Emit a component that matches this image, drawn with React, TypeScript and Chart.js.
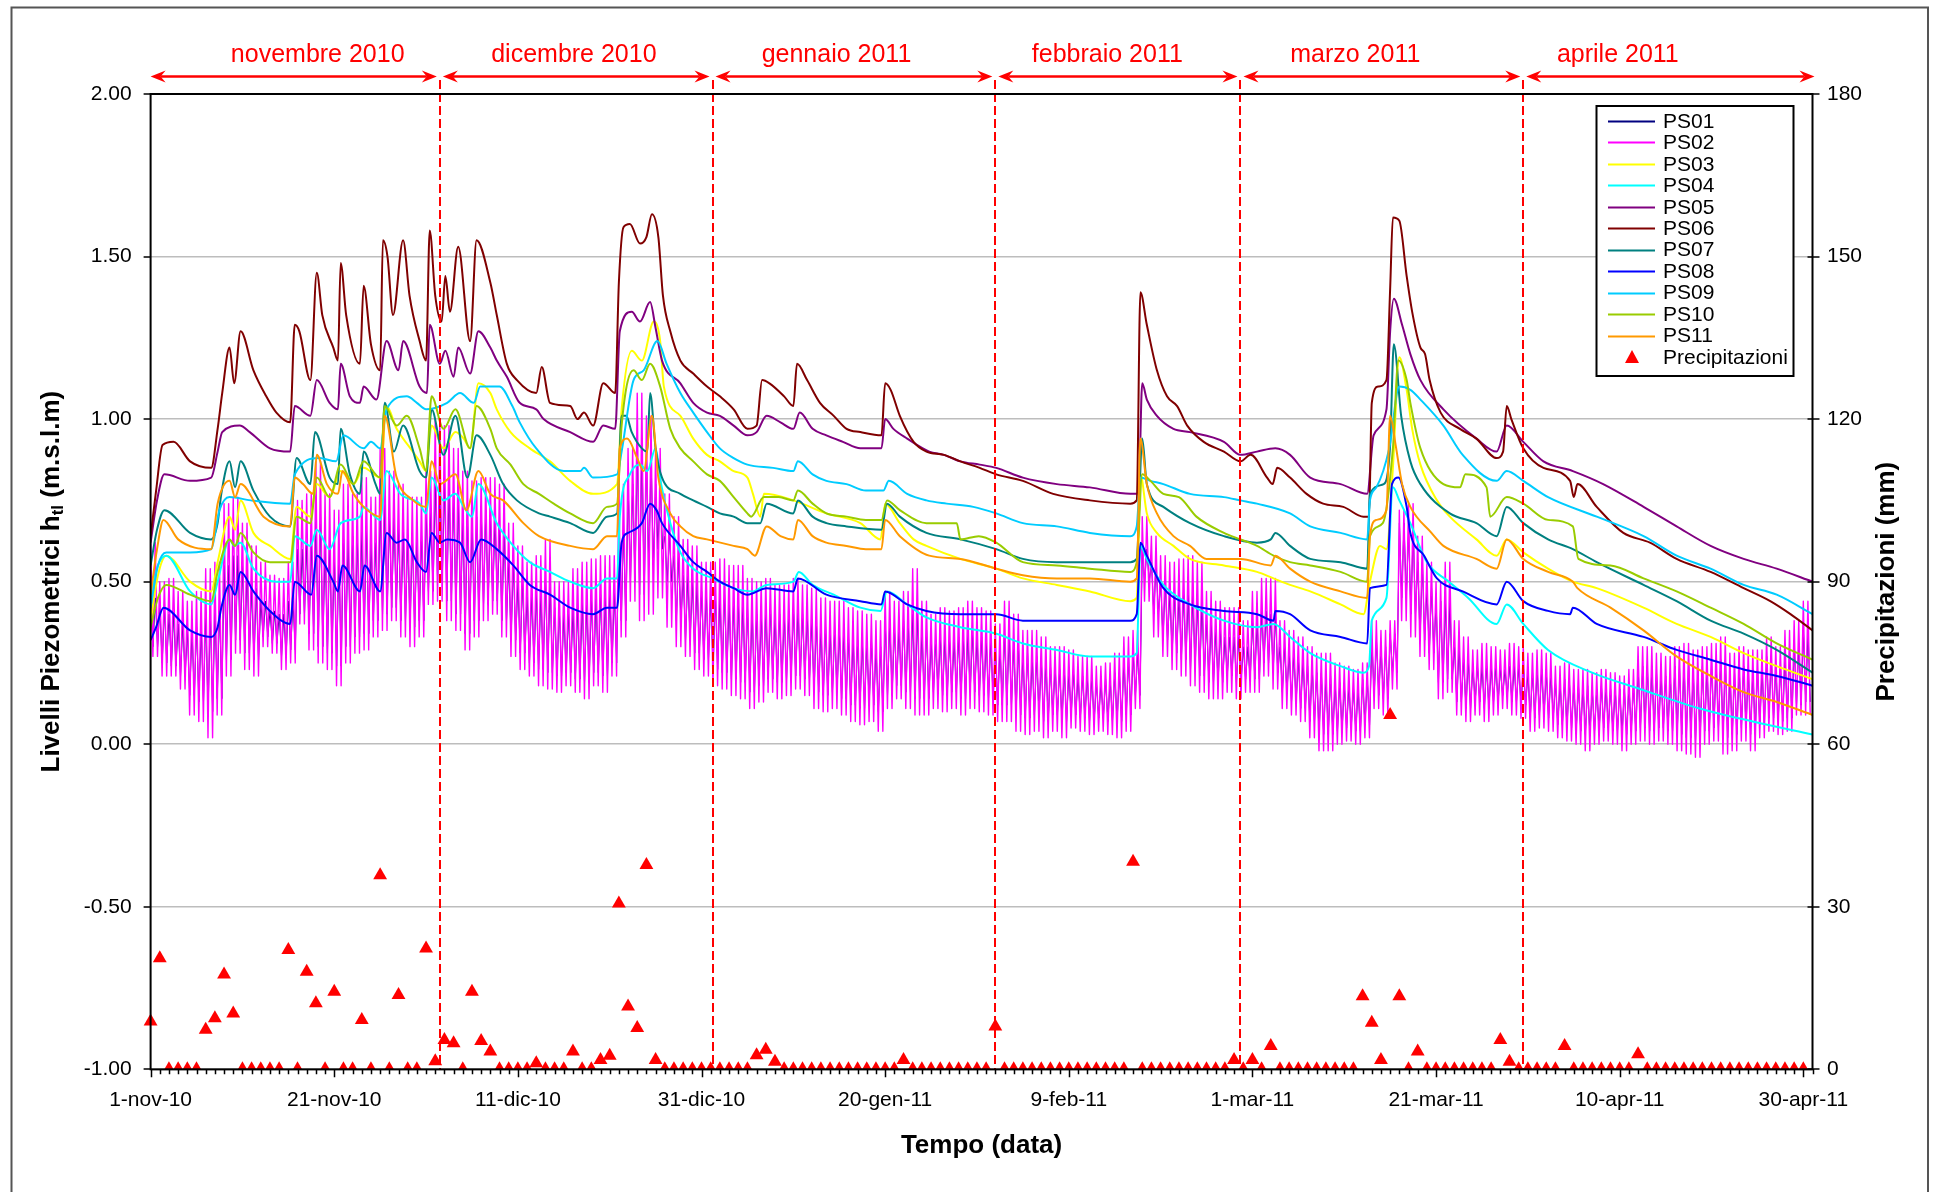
import { useEffect, useRef } from 'react';
import { Chart, registerables } from 'chart.js';

Chart.register(...registerables);

const FONT = "'Liberation Sans', Arial, Helvetica, sans-serif";

// Day 0 = 1 Nov 2010, day 181 = 1 May 2011
const X_MAX = 181;
const xTickDays = [0, 20, 40, 60, 80, 100, 120, 140, 160, 180];
const xTickLabels = ['1-nov-10', '21-nov-10', '11-dic-10', '31-dic-10', '20-gen-11', '9-feb-11', '1-mar-11', '21-mar-11', '10-apr-11', '30-apr-11'];

// Month bands drawn above the plot
const monthBounds = [0, 31.5, 61.2, 92, 118.7, 149.5, 181];
const monthNames = ['novembre 2010', 'dicembre 2010', 'gennaio 2011', 'febbraio 2011', 'marzo 2011', 'aprile 2011'];
const monthLabelDays = [18.2, 46.1, 74.7, 104.2, 131.2, 159.8];

const seriesNames = ['PS01', 'PS02', 'PS03', 'PS04', 'PS05', 'PS06', 'PS07', 'PS08', 'PS09', 'PS10', 'PS11'];
const seriesColors = ['#000080', '#ff00ff', '#ffff00', '#00ffff', '#800080', '#800000', '#008080', '#0000ff', '#00ccff', '#99cc00', '#ff9900'];

// Tidal wells: daily high / low level (m s.l.m.)
const ps01High = [
  0.45, 0.42, 0.40, 0.37, 0.35, 0.36, 0.40, 0.42, 0.55, 0.58,
  0.55, 0.48, 0.44, 0.41, 0.40, 0.44, 0.60, 0.62, 0.70, 0.62,
  0.58, 0.64, 0.64, 0.66, 0.62, 0.74, 0.70, 0.66, 0.64, 0.64,
  0.72, 0.80, 0.80, 0.76, 0.70, 0.70, 0.72, 0.70, 0.66, 0.56,
  0.50, 0.46, 0.47, 0.50, 0.42, 0.40, 0.42, 0.44, 0.45, 0.46,
  0.47, 0.66, 0.80, 0.92, 0.88, 0.80, 0.64, 0.58, 0.52, 0.50,
  0.47, 0.46, 0.46, 0.44, 0.44, 0.42, 0.40, 0.42, 0.40, 0.40,
  0.42, 0.40, 0.38, 0.36, 0.35, 0.35, 0.33, 0.32, 0.32, 0.30,
  0.38, 0.36, 0.38, 0.40, 0.35, 0.32, 0.33, 0.32, 0.33, 0.34,
  0.33, 0.32, 0.30, 0.34, 0.31, 0.28, 0.27, 0.26, 0.24, 0.23,
  0.22, 0.21, 0.21, 0.19, 0.20, 0.22, 0.26, 0.28, 0.60, 0.56,
  0.50, 0.46, 0.46, 0.46, 0.44, 0.38, 0.35, 0.33, 0.33, 0.30,
  0.38, 0.41, 0.40, 0.30, 0.28, 0.26, 0.24, 0.22, 0.21, 0.19,
  0.18, 0.17, 0.20, 0.32, 0.30, 0.34, 0.68, 0.66, 0.56, 0.48,
  0.44, 0.44, 0.30, 0.26, 0.24, 0.24, 0.24, 0.23, 0.24, 0.24,
  0.22, 0.23, 0.22, 0.19, 0.20, 0.18, 0.18, 0.17, 0.18, 0.17,
  0.17, 0.18, 0.24, 0.24, 0.22, 0.21, 0.24, 0.25, 0.23, 0.24,
  0.25, 0.26, 0.22, 0.24, 0.23, 0.23, 0.27, 0.24, 0.28, 0.31,
  0.35,
];
const ps01Low = [
  0.30, 0.25, 0.24, 0.21, 0.15, 0.13, 0.10, 0.14, 0.26, 0.32,
  0.28, 0.26, 0.33, 0.31, 0.27, 0.29, 0.40, 0.34, 0.30, 0.28,
  0.24, 0.30, 0.33, 0.34, 0.38, 0.40, 0.42, 0.38, 0.36, 0.38,
  0.47, 0.50, 0.44, 0.40, 0.34, 0.38, 0.43, 0.44, 0.38, 0.32,
  0.28, 0.25, 0.23, 0.22, 0.21, 0.22, 0.20, 0.19, 0.22, 0.21,
  0.25, 0.38, 0.50, 0.46, 0.55, 0.60, 0.50, 0.38, 0.32, 0.28,
  0.26, 0.23, 0.22, 0.20, 0.19, 0.16, 0.18, 0.20, 0.19, 0.20,
  0.21, 0.20, 0.16, 0.15, 0.16, 0.14, 0.12, 0.11, 0.12, 0.10,
  0.15, 0.18, 0.16, 0.14, 0.14, 0.16, 0.15, 0.16, 0.14, 0.16,
  0.15, 0.14, 0.12, 0.12, 0.09, 0.08, 0.09, 0.07, 0.09, 0.07,
  0.09, 0.08, 0.07, 0.08, 0.07, 0.07, 0.09, 0.15, 0.50, 0.40,
  0.32, 0.28, 0.26, 0.23, 0.21, 0.19, 0.19, 0.21, 0.19, 0.20,
  0.20, 0.25, 0.22, 0.16, 0.13, 0.11, 0.07, 0.03, 0.03, 0.04,
  0.05, 0.04, 0.06, 0.15, 0.14, 0.22, 0.45, 0.40, 0.32, 0.28,
  0.19, 0.20, 0.13, 0.11, 0.13, 0.11, 0.13, 0.15, 0.13, 0.12,
  0.08, 0.09, 0.08, 0.06, 0.05, 0.04, 0.03, 0.04, 0.05, 0.04,
  0.03, 0.04, 0.05, 0.04, 0.05, 0.04, 0.03, 0.02, 0.01, 0.04,
  0.05, 0.02, 0.03, 0.05, 0.03, 0.06, 0.08, 0.07, 0.08, 0.12,
  0.13,
];
const ps02High = [
  0.62, 0.50, 0.51, 0.47, 0.44, 0.47, 0.54, 0.56, 0.74, 0.76,
  0.68, 0.61, 0.56, 0.52, 0.51, 0.56, 0.75, 0.77, 0.87, 0.77,
  0.72, 0.80, 0.77, 0.82, 0.76, 0.91, 0.84, 0.80, 0.76, 0.76,
  0.84, 1.00, 0.98, 0.91, 0.84, 0.81, 0.82, 0.82, 0.80, 0.68,
  0.61, 0.56, 0.58, 0.63, 0.50, 0.50, 0.54, 0.56, 0.57, 0.58,
  0.58, 0.80, 0.91, 1.08, 1.01, 0.91, 0.77, 0.70, 0.63, 0.61,
  0.56, 0.56, 0.57, 0.55, 0.55, 0.51, 0.50, 0.51, 0.49, 0.49,
  0.51, 0.49, 0.48, 0.45, 0.44, 0.44, 0.42, 0.41, 0.40, 0.38,
  0.47, 0.44, 0.47, 0.54, 0.44, 0.40, 0.42, 0.41, 0.42, 0.44,
  0.42, 0.41, 0.37, 0.44, 0.40, 0.35, 0.35, 0.33, 0.30, 0.30,
  0.29, 0.27, 0.27, 0.24, 0.25, 0.28, 0.33, 0.35, 0.70, 0.64,
  0.58, 0.56, 0.57, 0.58, 0.56, 0.47, 0.44, 0.42, 0.42, 0.38,
  0.47, 0.51, 0.51, 0.38, 0.35, 0.33, 0.30, 0.28, 0.28, 0.25,
  0.24, 0.23, 0.25, 0.38, 0.35, 0.38, 0.72, 0.74, 0.64, 0.56,
  0.50, 0.56, 0.38, 0.33, 0.29, 0.31, 0.30, 0.29, 0.31, 0.30,
  0.28, 0.29, 0.28, 0.24, 0.25, 0.23, 0.23, 0.22, 0.23, 0.22,
  0.21, 0.23, 0.30, 0.30, 0.28, 0.27, 0.30, 0.31, 0.29, 0.30,
  0.31, 0.33, 0.28, 0.30, 0.29, 0.29, 0.33, 0.30, 0.35, 0.38,
  0.44,
];
const ps02Low = [
  0.27, 0.21, 0.21, 0.17, 0.09, 0.07, 0.02, 0.09, 0.21, 0.28,
  0.23, 0.21, 0.30, 0.28, 0.23, 0.25, 0.37, 0.29, 0.25, 0.23,
  0.18, 0.25, 0.28, 0.29, 0.33, 0.35, 0.38, 0.33, 0.30, 0.33,
  0.43, 0.44, 0.38, 0.35, 0.29, 0.33, 0.38, 0.40, 0.33, 0.27,
  0.23, 0.21, 0.18, 0.17, 0.16, 0.18, 0.16, 0.14, 0.18, 0.16,
  0.21, 0.33, 0.44, 0.38, 0.40, 0.45, 0.36, 0.30, 0.27, 0.23,
  0.21, 0.18, 0.17, 0.15, 0.14, 0.11, 0.13, 0.16, 0.14, 0.15,
  0.17, 0.15, 0.11, 0.10, 0.11, 0.09, 0.07, 0.06, 0.07, 0.04,
  0.11, 0.14, 0.11, 0.09, 0.09, 0.11, 0.10, 0.11, 0.09, 0.11,
  0.10, 0.09, 0.07, 0.07, 0.04, 0.03, 0.04, 0.02, 0.04, 0.02,
  0.05, 0.04, 0.03, 0.04, 0.03, 0.02, 0.04, 0.11, 0.44, 0.33,
  0.27, 0.23, 0.21, 0.18, 0.16, 0.14, 0.14, 0.16, 0.14, 0.16,
  0.16, 0.21, 0.17, 0.11, 0.09, 0.07, 0.02, -0.02, -0.02, 0.00,
  0.01, 0.00, 0.02, 0.11, 0.09, 0.17, 0.38, 0.33, 0.27, 0.23,
  0.14, 0.16, 0.09, 0.07, 0.09, 0.07, 0.09, 0.11, 0.09, 0.08,
  0.04, 0.05, 0.04, 0.02, 0.01, 0.00, -0.02, 0.00, 0.01, 0.00,
  -0.02, 0.00, 0.01, 0.00, 0.01, 0.00, -0.02, -0.03, -0.04, 0.00,
  0.01, -0.03, -0.02, 0.01, -0.02, 0.02, 0.04, 0.03, 0.04, 0.09,
  0.09,
];

// Inland wells: [day, level] at the turning points of each record
const ps03 = [
  [0, 0.38], [0.8, 0.52], [1.7, 0.58], [4.3, 0.50], [6.6, 0.47], [7.3, 0.56], [8.6, 0.70], [9.2, 0.66], [9.8, 0.75], [11.2, 0.65],
  [13, 0.61], [15.2, 0.57], [15.9, 0.73], [17.4, 0.70], [18.1, 0.80], [19.5, 0.76], [20.7, 0.84], [22.1, 0.80], [23.2, 0.85], [25, 0.82],
  [25.7, 1.04], [26.8, 0.97], [28.3, 0.91], [29.3, 0.87], [30, 0.84], [30.6, 0.98], [31.9, 0.91], [33.2, 0.96], [34.1, 0.94], [34.8, 0.91],
  [35.7, 1.11], [37, 1.08], [37.7, 1.03], [39.2, 0.96], [41.3, 0.91], [43.5, 0.87], [45.7, 0.81], [48.2, 0.77], [50.8, 0.80], [51.3, 1.03],
  [52.4, 1.21], [53.5, 1.18], [54.8, 1.30], [55.5, 1.24], [55.9, 1.10], [57.7, 1.01], [59.1, 0.94], [60.6, 0.89], [62, 0.87], [63.5, 0.84],
  [65, 0.82], [65.6, 0.77], [66.4, 0.70], [66.8, 0.77], [70, 0.75], [73.6, 0.71], [77.3, 0.68], [79.5, 0.63], [80, 0.74], [81.6, 0.68],
  [83.1, 0.63], [84.5, 0.61], [88.2, 0.57], [92.1, 0.54], [95, 0.51], [98.7, 0.49], [102.3, 0.47], [106.7, 0.44], [107.4, 0.45], [107.8, 0.83],
  [108.5, 0.71], [109.6, 0.65], [111.4, 0.61], [113.2, 0.57], [116.9, 0.55], [120.5, 0.53], [122.3, 0.51], [124.1, 0.49], [126.3, 0.47], [129.6, 0.43],
  [132.1, 0.40], [132.8, 0.50], [133.9, 0.61], [134.6, 0.60], [135.3, 0.85], [136, 1.19], [136.8, 1.09], [137.4, 0.97], [138.3, 0.86], [140.1, 0.75],
  [141.5, 0.70], [144.4, 0.63], [146.6, 0.58], [147.7, 0.63], [149.5, 0.59], [152.2, 0.54], [154.9, 0.50], [157.5, 0.48], [162.6, 0.42], [166.2, 0.37],
  [169.9, 0.33], [173.5, 0.28], [177.1, 0.24], [181, 0.20],
];
const ps04 = [
  [0, 0.45], [0.8, 0.55], [1.7, 0.58], [4.3, 0.47], [6.6, 0.43], [7.3, 0.50], [8.6, 0.63], [9.1, 0.61], [9.8, 0.62], [11.2, 0.54],
  [13.7, 0.50], [15.2, 0.50], [15.7, 0.64], [17.4, 0.61], [18.1, 0.66], [19.5, 0.60], [20.7, 0.68], [22.8, 0.70], [23.2, 0.73], [25, 0.69],
  [25.7, 0.84], [27.2, 0.77], [29.3, 0.74], [30, 0.71], [30.6, 0.82], [31.9, 0.75], [33.2, 0.77], [34.1, 0.73], [35, 0.70], [35.7, 0.80],
  [37.7, 0.68], [39.5, 0.61], [41.3, 0.56], [43.5, 0.53], [45.7, 0.50], [48.2, 0.48], [49.7, 0.51], [50.8, 0.51], [51.1, 0.70], [52.2, 0.83],
  [53.3, 0.86], [54.1, 0.84], [55, 0.91], [55.6, 0.80], [56.6, 0.68], [57.7, 0.59], [59.1, 0.54], [61.2, 0.51], [63.5, 0.48], [65.6, 0.47],
  [67.1, 0.49], [70, 0.50], [70.6, 0.53], [72.1, 0.49], [74.4, 0.46], [77.3, 0.42], [79.5, 0.41], [80.2, 0.47], [82.4, 0.43], [84.5, 0.39],
  [88.2, 0.36], [92.1, 0.34], [95, 0.31], [98.7, 0.29], [102.3, 0.27], [106.7, 0.27], [107.4, 0.28], [107.8, 0.61], [108.5, 0.57], [110.3, 0.49],
  [113.2, 0.43], [116.9, 0.38], [120.5, 0.36], [122.3, 0.37], [124.1, 0.33], [126.3, 0.28], [129.6, 0.24], [132.1, 0.22], [132.7, 0.24], [133, 0.38],
  [134.6, 0.45], [135.3, 0.79], [136, 0.75], [137.2, 0.68], [139, 0.56], [141.4, 0.50], [143.5, 0.45], [146.6, 0.37], [147.7, 0.43], [149.5, 0.37],
  [152.2, 0.29], [157, 0.22], [162.2, 0.17], [168.7, 0.11], [174.5, 0.07], [181, 0.03],
];
const ps05 = [
  [0, 0.62], [0.7, 0.75], [1.5, 0.83], [4.3, 0.81], [6.6, 0.82], [7.3, 0.90], [7.8, 0.96], [9.7, 0.98], [10.8, 0.96], [13, 0.91],
  [15.2, 0.90], [15.7, 1.04], [17.4, 1.01], [18.1, 1.12], [19.5, 1.05], [20.4, 1.03], [20.7, 1.17], [21.7, 1.07], [22.8, 1.05], [23.2, 1.10],
  [24.6, 1.06], [25.7, 1.24], [27, 1.15], [27.5, 1.24], [29.3, 1.10], [30.1, 1.08], [30.4, 1.29], [31.5, 1.17], [32.1, 1.21], [33, 1.13],
  [33.5, 1.22], [34.8, 1.14], [35.7, 1.27], [37, 1.22], [37.7, 1.18], [38.8, 1.13], [40.2, 1.05], [42, 1.03], [42.8, 1.00], [45.7, 0.96],
  [48.2, 0.93], [49.3, 0.98], [50.6, 0.97], [51.1, 1.27], [52.4, 1.33], [53.3, 1.30], [54.4, 1.36], [55, 1.28], [55.7, 1.18], [57.7, 1.11],
  [59.1, 1.05], [60.6, 1.02], [62, 1.01], [63.5, 0.98], [65, 0.95], [66, 0.96], [67.1, 1.01], [68.6, 0.99], [70, 0.97], [70.7, 1.02],
  [72.1, 0.97], [73.6, 0.95], [75.4, 0.93], [77.3, 0.91], [79.6, 0.91], [80, 1.00], [80.9, 0.97], [82.4, 0.94], [84.8, 0.90], [86.4, 0.89],
  [88.2, 0.87], [90.3, 0.86], [92.1, 0.85], [95, 0.82], [98.7, 0.80], [102.3, 0.79], [106.7, 0.77], [107.6, 0.77], [108, 1.11], [108.5, 1.06],
  [109.6, 1.01], [111.4, 0.97], [113.2, 0.96], [116.9, 0.93], [118.7, 0.89], [120.5, 0.90], [122.5, 0.91], [124.1, 0.89], [126.3, 0.82], [129.6, 0.80],
  [132.5, 0.77], [133.2, 0.95], [134.6, 1.03], [135, 1.27], [135.4, 1.37], [136.3, 1.29], [137.2, 1.20], [138.3, 1.12], [140.8, 1.03], [144.4, 0.94],
  [146.6, 0.90], [147.7, 0.98], [149.5, 0.93], [151.7, 0.87], [154.9, 0.84], [158.2, 0.80], [162.6, 0.73], [166.2, 0.67], [169.9, 0.61], [173.5, 0.57],
  [177.1, 0.54], [181, 0.50],
];
const ps06 = [
  [0, 0.64], [0.6, 0.78], [1.3, 0.92], [2.5, 0.93], [4.3, 0.87], [6.6, 0.85], [7.3, 0.97], [7.8, 1.08], [8.6, 1.22], [9.1, 1.11],
  [9.8, 1.27], [11.2, 1.15], [12.6, 1.07], [13.7, 1.02], [15.2, 0.99], [15.7, 1.29], [16.2, 1.27], [17.4, 1.12], [18.1, 1.45], [18.7, 1.32],
  [19.9, 1.22], [20.4, 1.18], [20.7, 1.48], [21.3, 1.32], [22.8, 1.17], [23.2, 1.41], [24, 1.23], [25, 1.15], [25.3, 1.55], [25.8, 1.50],
  [26.4, 1.32], [27.5, 1.55], [28.2, 1.38], [29.3, 1.24], [30, 1.18], [30.4, 1.58], [31, 1.38], [31.7, 1.30], [32.1, 1.44], [32.6, 1.33],
  [33.5, 1.53], [34.8, 1.24], [35.5, 1.55], [37, 1.42], [37.7, 1.32], [38.8, 1.17], [39.9, 1.12], [42, 1.08], [42.6, 1.16], [43.5, 1.05],
  [45.7, 1.04], [46.5, 1.00], [47.2, 1.02], [48.2, 0.98], [49.3, 1.11], [50.6, 1.08], [51, 1.42], [51.5, 1.59], [52.2, 1.60], [53.3, 1.54],
  [54, 1.56], [54.6, 1.63], [55.3, 1.56], [55.8, 1.38], [56.6, 1.27], [57.7, 1.18], [59.1, 1.14], [60.6, 1.10], [62, 1.07], [63.5, 1.03],
  [65, 0.97], [66, 0.98], [66.6, 1.12], [67.4, 1.11], [69, 1.07], [70, 1.04], [70.4, 1.17], [71.5, 1.12], [72.9, 1.05], [74.4, 1.01],
  [75.8, 0.97], [77.3, 0.96], [79.6, 0.95], [80, 1.11], [80.6, 1.09], [81.6, 1.01], [83.1, 0.93], [84.5, 0.90], [86.4, 0.89], [88.2, 0.87],
  [90.3, 0.85], [92.1, 0.83], [95, 0.81], [98.3, 0.77], [102.3, 0.75], [106.7, 0.74], [107.4, 0.75], [107.8, 1.39], [108.5, 1.29], [109.6, 1.15],
  [110.7, 1.07], [111.8, 1.04], [112.9, 0.98], [114.7, 0.93], [116.9, 0.90], [118.7, 0.87], [119.8, 0.89], [121.6, 0.82], [122.2, 0.80], [122.7, 0.85],
  [124.1, 0.82], [125.9, 0.77], [127.7, 0.74], [129.9, 0.73], [132.1, 0.70], [132.7, 0.70], [133, 1.05], [133.7, 1.10], [134.6, 1.12], [135, 1.40],
  [135.3, 1.62], [136, 1.61], [136.8, 1.44], [137.4, 1.33], [138.3, 1.22], [138.8, 1.20], [139.3, 1.12], [140.5, 1.02], [142.6, 0.97], [144.4, 0.94],
  [146.6, 0.88], [147.3, 0.90], [147.7, 1.04], [148.2, 1.00], [149.5, 0.91], [151.7, 0.85], [154.6, 0.81], [155, 0.76], [155.4, 0.80], [157.5, 0.73],
  [160.4, 0.65], [163.3, 0.62], [166.2, 0.57], [169.9, 0.53], [173.5, 0.48], [176.4, 0.44], [178.6, 0.40], [181, 0.35],
];
const ps07 = [
  [0, 0.55], [0.7, 0.66], [1.5, 0.72], [4.3, 0.65], [6.6, 0.63], [7.3, 0.68], [7.7, 0.77], [8.6, 0.87], [9.2, 0.79], [9.8, 0.87],
  [11.2, 0.78], [13, 0.70], [15.2, 0.67], [15.9, 0.88], [17.4, 0.80], [17.9, 0.96], [19.5, 0.82], [20.4, 0.80], [20.7, 0.97], [21.7, 0.83],
  [22.8, 0.77], [23.2, 0.90], [24.5, 0.80], [25, 0.77], [25.5, 1.05], [26.5, 0.90], [27.5, 0.98], [29.3, 0.84], [30, 0.82], [30.6, 1.03],
  [31.9, 0.89], [33.2, 1.01], [34.5, 0.82], [35.5, 0.95], [37, 0.89], [38.4, 0.80], [39.9, 0.75], [42.3, 0.71], [43.5, 0.70], [45.7, 0.68],
  [48.2, 0.65], [49.7, 0.70], [50.8, 0.71], [51.3, 1.01], [51.8, 1.01], [52.4, 0.96], [53.5, 0.91], [54.1, 0.90], [54.4, 1.08], [55, 0.91],
  [55.7, 0.82], [57.7, 0.77], [59.1, 0.75], [60.6, 0.73], [62, 0.71], [63.5, 0.70], [65, 0.68], [66.4, 0.68], [67.1, 0.74], [70, 0.71],
  [70.5, 0.75], [72.1, 0.70], [73.6, 0.68], [75.8, 0.67], [79.6, 0.66], [80.2, 0.74], [81.6, 0.70], [84.5, 0.65], [88.2, 0.63], [92.1, 0.60],
  [95, 0.57], [98.7, 0.56], [106.7, 0.56], [107.4, 0.57], [108, 0.94], [108.5, 0.80], [110.3, 0.73], [113.2, 0.68], [116.9, 0.64], [120.5, 0.62],
  [122, 0.63], [122.5, 0.65], [124.1, 0.61], [126.3, 0.57], [129.6, 0.56], [132.5, 0.54], [132.8, 0.77], [134.3, 0.80], [135, 0.92], [135.4, 1.23],
  [136.2, 1.01], [137.2, 0.87], [138.3, 0.80], [141.5, 0.71], [144.4, 0.68], [146.6, 0.64], [147.7, 0.73], [149.5, 0.68], [152.2, 0.63], [154.9, 0.60],
  [157.5, 0.56], [162.6, 0.49], [166.2, 0.44], [169.9, 0.38], [173.5, 0.34], [177.1, 0.29], [181, 0.22],
];
const ps08 = [
  [0, 0.32], [0.6, 0.36], [1.4, 0.42], [4.3, 0.35], [6.6, 0.33], [7.3, 0.36], [7.7, 0.42], [8.6, 0.49], [9.2, 0.46], [9.8, 0.53],
  [11.2, 0.47], [13, 0.41], [15.2, 0.37], [15.7, 0.50], [17.5, 0.46], [18.1, 0.58], [19.9, 0.50], [20.4, 0.47], [20.9, 0.55], [22.8, 0.47],
  [23.3, 0.55], [25, 0.47], [25.7, 0.65], [26.8, 0.62], [27.7, 0.63], [29, 0.56], [30, 0.53], [30.6, 0.65], [31.5, 0.62], [32.3, 0.63],
  [33.7, 0.62], [34.8, 0.56], [36, 0.63], [37.7, 0.60], [39.5, 0.55], [41.3, 0.49], [43.5, 0.46], [45.7, 0.42], [48.2, 0.40], [49.7, 0.42],
  [50.8, 0.42], [51.3, 0.62], [52, 0.65], [53.5, 0.68], [54.4, 0.74], [55.1, 0.72], [55.7, 0.68], [57.7, 0.61], [59.1, 0.56], [60.6, 0.53],
  [62, 0.50], [63.5, 0.48], [65, 0.46], [67.1, 0.48], [70, 0.47], [70.5, 0.51], [73.6, 0.46], [77.3, 0.44], [79.6, 0.43], [80, 0.47],
  [82.4, 0.43], [84.5, 0.41], [88.2, 0.40], [92.1, 0.40], [95, 0.38], [98.7, 0.38], [102.3, 0.38], [106.7, 0.38], [107.4, 0.40], [107.8, 0.62],
  [108.5, 0.58], [110.3, 0.48], [113.2, 0.43], [116.9, 0.41], [120.5, 0.40], [122.3, 0.38], [122.5, 0.41], [124.1, 0.40], [126.3, 0.35], [129.6, 0.33],
  [132.5, 0.31], [132.8, 0.48], [134.6, 0.49], [135.2, 0.80], [135.9, 0.82], [136.8, 0.73], [137.2, 0.65], [138.7, 0.58], [140.1, 0.51], [142.9, 0.47],
  [146.6, 0.43], [147.7, 0.50], [149.5, 0.44], [152.2, 0.41], [154.6, 0.40], [154.9, 0.42], [157.5, 0.37], [162.6, 0.33], [166.2, 0.29], [169.9, 0.26],
  [173.5, 0.23], [177.1, 0.21], [181, 0.18],
];
const ps09 = [
  [0, 0.42], [0.8, 0.55], [1.7, 0.59], [4.3, 0.59], [6.6, 0.60], [7.5, 0.72], [8.6, 0.76], [10.9, 0.75], [15.2, 0.74], [15.7, 0.83],
  [18.4, 0.88], [20.2, 0.87], [21, 0.95], [23.2, 0.91], [24, 0.93], [25, 0.91], [25.7, 1.03], [27.9, 1.07], [29, 1.05], [30, 1.03],
  [32.3, 1.05], [33.7, 1.08], [35.2, 1.05], [35.9, 1.10], [38, 1.10], [39.4, 1.04], [40.2, 0.99], [42, 0.91], [45, 0.84], [46.8, 0.84],
  [47.2, 0.85], [48.2, 0.82], [50.8, 0.83], [51.3, 0.90], [52.6, 1.12], [53.7, 1.15], [55.2, 1.24], [56.2, 1.17], [57.7, 1.08], [59.1, 1.02],
  [60.6, 0.96], [62, 0.91], [63.5, 0.88], [65, 0.86], [67.8, 0.85], [70, 0.84], [70.5, 0.87], [72.1, 0.83], [73.6, 0.81], [75.8, 0.80],
  [77.9, 0.78], [79.8, 0.78], [80.4, 0.81], [82.4, 0.77], [84.5, 0.75], [86.7, 0.74], [89.6, 0.73], [92.1, 0.71], [95, 0.68], [98.7, 0.67],
  [102.3, 0.65], [106.7, 0.64], [107.4, 0.67], [107.8, 0.82], [108.9, 0.81], [110.3, 0.80], [113.2, 0.77], [116.9, 0.76], [118.7, 0.75], [120.5, 0.74],
  [124.1, 0.71], [126.3, 0.67], [129.6, 0.65], [132.5, 0.63], [132.8, 0.75], [133.5, 0.79], [134.9, 0.91], [136, 1.10], [137.2, 1.09], [138.3, 1.06],
  [140.8, 0.98], [142.9, 0.89], [146.6, 0.81], [147.7, 0.84], [149.5, 0.81], [152.2, 0.76], [157.5, 0.70], [162.6, 0.64], [166.2, 0.58], [169.9, 0.54],
  [173.5, 0.49], [177.1, 0.46], [181, 0.40],
];
const ps10 = [
  [0, 0.36], [0.8, 0.45], [1.7, 0.49], [4.3, 0.46], [6.6, 0.44], [7.3, 0.53], [8.6, 0.63], [9.2, 0.61], [9.8, 0.65], [11.2, 0.59],
  [13, 0.56], [15.2, 0.56], [15.9, 0.70], [17.4, 0.68], [18.1, 0.82], [19.5, 0.76], [20.7, 0.86], [22.1, 0.80], [23.2, 0.87], [25, 0.82],
  [25.5, 1.04], [26.8, 0.98], [27.9, 1.01], [29.3, 0.91], [30, 0.84], [30.6, 1.07], [31.9, 0.97], [33.2, 1.03], [34.8, 0.91], [35.5, 1.04],
  [37, 0.97], [37.7, 0.91], [39.2, 0.86], [40.6, 0.80], [42.3, 0.77], [43.9, 0.74], [45.7, 0.71], [48.2, 0.68], [49.7, 0.73], [50.8, 0.74],
  [51.3, 0.98], [52.6, 1.15], [53.5, 1.12], [54.4, 1.17], [55.5, 1.10], [56.6, 0.97], [57.7, 0.91], [59.1, 0.87], [60.6, 0.83], [62, 0.81],
  [63.5, 0.76], [65, 0.71], [65.4, 0.70], [66.8, 0.76], [68.4, 0.76], [70, 0.75], [70.5, 0.78], [72.1, 0.74], [73.6, 0.71], [75.8, 0.70],
  [77.9, 0.69], [79.6, 0.69], [80.2, 0.75], [81.6, 0.72], [84.5, 0.68], [87.8, 0.68], [88.2, 0.63], [90.2, 0.64], [92.1, 0.62], [95, 0.56],
  [98.7, 0.55], [102.3, 0.54], [106.7, 0.53], [107.4, 0.56], [108, 0.83], [108.9, 0.81], [110.3, 0.77], [112, 0.76], [113.9, 0.70], [116.9, 0.65],
  [118.7, 0.63], [120.5, 0.61], [122.3, 0.58], [124.1, 0.56], [126.3, 0.55], [129.6, 0.53], [132.5, 0.50], [132.8, 0.64], [134.2, 0.68], [135.3, 0.91],
  [135.9, 1.18], [136.8, 1.12], [137.2, 1.05], [138.3, 0.91], [140.8, 0.80], [142.6, 0.79], [143.2, 0.83], [145.5, 0.79], [145.9, 0.70], [147.7, 0.76],
  [149.5, 0.74], [152.2, 0.69], [154.9, 0.67], [155.5, 0.57], [159, 0.55], [162.6, 0.51], [166.2, 0.47], [169.9, 0.42], [173.5, 0.37], [177.1, 0.31],
  [181, 0.26],
];
const ps11 = [
  [0, 0.46], [0.7, 0.60], [1.4, 0.69], [3, 0.63], [6.6, 0.60], [7.3, 0.74], [8.6, 0.81], [9.2, 0.76], [9.8, 0.80], [12.3, 0.70],
  [15.2, 0.67], [15.7, 0.82], [16.6, 0.80], [17.7, 0.77], [18.1, 0.89], [19.2, 0.80], [20.4, 0.77], [20.9, 0.84], [22.1, 0.77], [23.2, 0.73],
  [25, 0.70], [25.5, 1.01], [26.8, 0.82], [28.6, 0.75], [30, 0.73], [30.6, 0.87], [31.5, 0.80], [33.2, 0.83], [34.4, 0.72], [35.7, 0.84],
  [37, 0.77], [38.4, 0.75], [40.6, 0.68], [42.3, 0.64], [45.7, 0.61], [48.2, 0.60], [49.7, 0.64], [50.8, 0.64], [51.1, 0.91], [51.9, 0.94],
  [53, 0.88], [53.7, 0.84], [54.6, 1.01], [55.3, 0.82], [56.6, 0.71], [57.7, 0.67], [59.1, 0.64], [60.6, 0.63], [63.5, 0.61], [65, 0.60],
  [65.8, 0.58], [67.1, 0.67], [68.6, 0.64], [70, 0.63], [70.5, 0.69], [72.1, 0.64], [73.6, 0.62], [75.8, 0.61], [77.9, 0.60], [79.6, 0.60],
  [80, 0.69], [81.6, 0.64], [84.8, 0.58], [88.2, 0.57], [92.1, 0.54], [95, 0.52], [98.7, 0.51], [102.3, 0.51], [106.7, 0.50], [107.4, 0.51],
  [107.8, 0.94], [108.5, 0.80], [109.6, 0.71], [111.4, 0.64], [113.2, 0.61], [115, 0.57], [118.7, 0.57], [122, 0.55], [122.5, 0.58], [124.1, 0.54],
  [126.3, 0.50], [129.6, 0.47], [132.5, 0.45], [132.8, 0.64], [133.5, 0.69], [134.6, 0.72], [135, 1.01], [135.6, 0.92], [136.3, 0.80], [137.2, 0.73],
  [139.5, 0.65], [140.8, 0.61], [144.4, 0.57], [146.6, 0.54], [147.7, 0.63], [149.5, 0.57], [152.2, 0.53], [154.9, 0.50], [155.4, 0.48], [159, 0.42],
  [162.6, 0.35], [166.2, 0.27], [169.9, 0.21], [173.5, 0.16], [177.1, 0.13], [181, 0.09],
];

// Daily rainfall (mm), one value per day from 1 Nov 2010
const precipitation = [
  8.8, 20.5, 0, 0, 0, 0, 7.3, 9.4, 17.5, 10.3,
  0, 0, 0, 0, 0, 22.0, 0, 18.0, 12.2, 0,
  14.3, 0, 0, 9.1, 0, 35.8, 0, 13.7, 0, 0,
  22.3, 1.5, 5.4, 4.8, 0, 14.3, 5.2, 3.3, 0, 0,
  0, 0, 1.1, 0, 0, 0, 3.3, 0, 0, 1.7,
  2.5, 30.6, 11.6, 7.6, 37.7, 1.7, 0, 0, 0, 0,
  0, 0, 0, 0, 0, 0, 2.6, 3.6, 1.4, 0,
  0, 0, 0, 0, 0, 0, 0, 0, 0, 0,
  0, 0, 1.7, 0, 0, 0, 0, 0, 0, 0,
  0, 0, 7.9, 0, 0, 0, 0, 0, 0, 0,
  0, 0, 0, 0, 0, 0, 0, 38.3, 0, 0,
  0, 0, 0, 0, 0, 0, 0, 0, 1.7, 0,
  1.7, 0, 4.3, 0, 0, 0, 0, 0, 0, 0,
  0, 0, 13.5, 8.6, 1.7, 65.4, 13.5, 0, 3.3, 0,
  0, 0, 0, 0, 0, 0, 0, 5.4, 1.4, 0,
  0, 0, 0, 0, 4.3, 0, 0, 0, 0, 0,
  0, 0, 2.8, 0, 0, 0, 0, 0, 0, 0,
  0, 0, 0, 0, 0, 0, 0, 0, 0, 0,
  0,
];

const yTitleMain = 'Livelli Piezometrici h';
const yTitleSub = 'tl';
const yTitleUnit = ' (m.s.l.m)';
const xTitle = 'Tempo (data)';
const y2Title = 'Precipitazioni (mm)';

// Two tide cycles per day between the daily high and low readings
const tidalPoints = (hi: number[], lo: number[], phase: number) => {
  const pts: { x: number; y: number }[] = [];
  hi.forEach((h, d) => {
    pts.push(
      { x: d + phase, y: h },
      { x: d + phase + 0.25, y: lo[d] },
      { x: d + phase + 0.5, y: h },
      { x: d + phase + 0.75, y: lo[d] },
    );
  });
  return pts;
};
const toPoints = (pairs: number[][]) => pairs.map(([x, y]) => ({ x, y }));

const seriesData = [
  tidalPoints(ps01High, ps01Low, 0.01),
  tidalPoints(ps02High, ps02Low, 0),
  toPoints(ps03), toPoints(ps04), toPoints(ps05), toPoints(ps06), toPoints(ps07),
  toPoints(ps08), toPoints(ps09), toPoints(ps10), toPoints(ps11),
];

const arrowHead = (ctx: CanvasRenderingContext2D, tipX: number, y: number, dir: number) => {
  ctx.beginPath();
  ctx.moveTo(tipX, y);
  ctx.lineTo(tipX - dir * 15, y - 6);
  ctx.lineTo(tipX - dir * 10, y);
  ctx.lineTo(tipX - dir * 15, y + 6);
  ctx.closePath();
  ctx.fill();
};

const decorPlugin = {
  id: 'decor',
  afterDatasetsDraw(chart: any) {
    const { ctx, chartArea: a } = chart;
    const xs = chart.scales.x;
    ctx.save();
    ctx.strokeStyle = '#ff0000';
    ctx.lineWidth = 2;
    ctx.setLineDash([9, 4]);
    monthBounds.slice(1, -1).forEach((d) => {
      const px = Math.round(xs.getPixelForValue(d));
      ctx.beginPath();
      ctx.moveTo(px, 80);
      ctx.lineTo(px, a.bottom);
      ctx.stroke();
    });
    ctx.restore();
  },
  afterDraw(chart: any) {
    const { ctx, chartArea: a } = chart;
    const xs = chart.scales.x;
    const ys = chart.scales.y;
    const y2 = chart.scales.y2;
    ctx.save();
    ctx.setLineDash([]);

    // plot frame
    ctx.strokeStyle = '#000';
    ctx.lineWidth = 2;
    ctx.strokeRect(a.left, a.top, a.right - a.left, a.bottom - a.top);

    // tick marks
    ctx.lineWidth = 1.5;
    ctx.beginPath();
    ys.ticks.forEach((t: any) => {
      const py = Math.round(ys.getPixelForValue(t.value));
      ctx.moveTo(a.left - 7, py);
      ctx.lineTo(a.left, py);
    });
    y2.ticks.forEach((t: any) => {
      const py = Math.round(y2.getPixelForValue(t.value));
      ctx.moveTo(a.right - 5, py);
      ctx.lineTo(a.right + 7, py);
    });
    for (let d = 0; d <= X_MAX; d++) {
      const px = Math.round(xs.getPixelForValue(d)) + 0.5;
      const len = xTickDays.includes(d) ? 8 : 5;
      ctx.moveTo(px, a.bottom);
      ctx.lineTo(px, a.bottom + len);
    }
    ctx.stroke();

    // month arrows and names
    const ay = 76.5;
    ctx.strokeStyle = '#ff0000';
    ctx.fillStyle = '#ff0000';
    ctx.lineWidth = 2.5;
    for (let i = 0; i < monthNames.length; i++) {
      const x1 = xs.getPixelForValue(monthBounds[i]) + (i === 0 ? 0 : 3);
      const x2 = xs.getPixelForValue(monthBounds[i + 1]) + (i === monthNames.length - 1 ? 2 : -3);
      ctx.beginPath();
      ctx.moveTo(x1 + 10, ay);
      ctx.lineTo(x2 - 10, ay);
      ctx.stroke();
      arrowHead(ctx, x1, ay, -1);
      arrowHead(ctx, x2, ay, 1);
    }
    ctx.font = `25px ${FONT}`;
    ctx.textAlign = 'center';
    ctx.textBaseline = 'alphabetic';
    monthNames.forEach((n, i) => ctx.fillText(n, xs.getPixelForValue(monthLabelDays[i]), 61.5));

    // axis titles
    ctx.fillStyle = '#000';
    ctx.font = `bold 26px ${FONT}`;
    ctx.textBaseline = 'middle';
    ctx.fillText(xTitle, (a.left + a.right) / 2, 1146);

    const midY = (a.top + a.bottom) / 2;
    ctx.save();
    ctx.translate(1887, midY);
    ctx.rotate(-Math.PI / 2);
    ctx.fillText(y2Title, 0, 0);
    ctx.restore();

    ctx.save();
    ctx.translate(52, midY);
    ctx.rotate(-Math.PI / 2);
    const big = `bold 26px ${FONT}`;
    const small = `bold 17px ${FONT}`;
    const parts: [string, string, number][] = [[yTitleMain, big, 0], [yTitleSub, small, 6], [yTitleUnit, big, 0]];
    let total = 0;
    parts.forEach(([t, f]) => { ctx.font = f; total += ctx.measureText(t).width; });
    let px = -total / 2;
    ctx.textAlign = 'left';
    parts.forEach(([t, f, dy]) => {
      ctx.font = f;
      ctx.fillText(t, px, dy);
      px += ctx.measureText(t).width;
    });
    ctx.restore();

    // legend
    const lx = 1596.5, ly = 106, lw = 197, lh = 270;
    ctx.fillStyle = '#fff';
    ctx.fillRect(lx, ly, lw, lh);
    ctx.strokeStyle = '#000';
    ctx.lineWidth = 2;
    ctx.strokeRect(lx, ly, lw, lh);
    ctx.font = `21px ${FONT}`;
    ctx.textAlign = 'left';
    ctx.textBaseline = 'middle';
    chart.data.datasets.forEach((ds: any, i: number) => {
      const cy = 121 + i * 21.45;
      if (ds.showLine === false) {
        ctx.fillStyle = ds.backgroundColor;
        ctx.beginPath();
        ctx.moveTo(1632, cy - 7);
        ctx.lineTo(1639, cy + 6);
        ctx.lineTo(1625, cy + 6);
        ctx.closePath();
        ctx.fill();
      } else {
        ctx.strokeStyle = ds.borderColor;
        ctx.lineWidth = 2;
        ctx.beginPath();
        ctx.moveTo(1608, Math.round(cy) + 0.5);
        ctx.lineTo(1655, Math.round(cy) + 0.5);
        ctx.stroke();
      }
      ctx.fillStyle = '#000';
      ctx.fillText(ds.label, 1663, cy + 1);
    });

    // chart border
    ctx.strokeStyle = '#555';
    ctx.lineWidth = 2;
    ctx.strokeRect(11.5, 7.5, 1916.5, 1400);
    ctx.restore();
  },
};

export default function App() {
  const canvasRef = useRef<HTMLCanvasElement | null>(null);

  useEffect(() => {
    const canvas = canvasRef.current;
    if (!canvas) return;

    const lineSets = seriesData.map((data, i) => ({
      label: seriesNames[i],
      data,
      borderColor: seriesColors[i],
      backgroundColor: seriesColors[i],
      borderWidth: i === 0 ? 1 : i === 1 ? 1.4 : 2,
      pointRadius: 0,
      fill: false,
      tension: 0,
      cubicInterpolationMode: i < 2 ? 'default' : 'monotone',
      borderJoinStyle: 'round',
      yAxisID: 'y',
      order: 12 - i,
    }));

    const rainSet = {
      label: 'Precipitazioni',
      data: precipitation.map((v, d) => ({ x: d, y: v })),
      yAxisID: 'y2',
      showLine: false,
      pointStyle: 'triangle',
      pointRadius: 8,
      pointBorderWidth: 0,
      backgroundColor: '#ff0000',
      borderColor: '#ff0000',
      order: 0,
      clip: { left: 12, right: 12, top: 12, bottom: 0 },
    };

    const tickFont = { family: FONT, size: 21 };

    const chart = new Chart(canvas, {
      type: 'line',
      data: { datasets: [...lineSets, rainSet] as any },
      options: {
        responsive: false,
        animation: false,
        devicePixelRatio: 1,
        events: [],
        layout: { padding: { top: 94, left: 0, right: 0, bottom: 0 } },
        plugins: { legend: { display: false }, tooltip: { enabled: false } },
        scales: {
          x: {
            type: 'linear',
            position: 'bottom',
            min: 0,
            max: X_MAX,
            afterFit: (s: any) => { s.height = 122.7; },
            afterBuildTicks: (s: any) => { s.ticks = xTickDays.map((v) => ({ value: v })); },
            grid: { display: false, drawTicks: false },
            border: { display: false },
            ticks: {
              autoSkip: false,
              maxRotation: 0,
              minRotation: 0,
              padding: 18,
              color: '#000',
              font: tickFont,
              callback: (_v: any, idx: number) => xTickLabels[idx],
            },
          },
          y: {
            type: 'linear',
            position: 'left',
            min: -1,
            max: 2,
            afterFit: (s: any) => { s.width = 150.6; },
            grid: { color: '#bdbdbd', lineWidth: 1.5, drawTicks: false },
            border: { display: false },
            ticks: {
              stepSize: 0.5,
              padding: 19,
              color: '#000',
              font: tickFont,
              callback: (v: any) => Number(v).toFixed(2),
            },
          },
          y2: {
            type: 'linear',
            position: 'right',
            min: 0,
            max: 180,
            afterFit: (s: any) => { s.width = 123.5; },
            grid: { display: false, drawTicks: false },
            border: { display: false },
            ticks: { stepSize: 30, padding: 14.5, color: '#000', font: tickFont },
          },
        },
      } as any,
      plugins: [decorPlugin],
    });

    return () => chart.destroy();
  }, []);

  return (
    <div style={{ position: 'absolute', left: 0, top: 0, width: 1936, height: 1192, overflow: 'hidden', background: '#fff' }}>
      <canvas ref={canvasRef} width={1936} height={1192} style={{ display: 'block', width: 1936, height: 1192 }} />
    </div>
  );
}
